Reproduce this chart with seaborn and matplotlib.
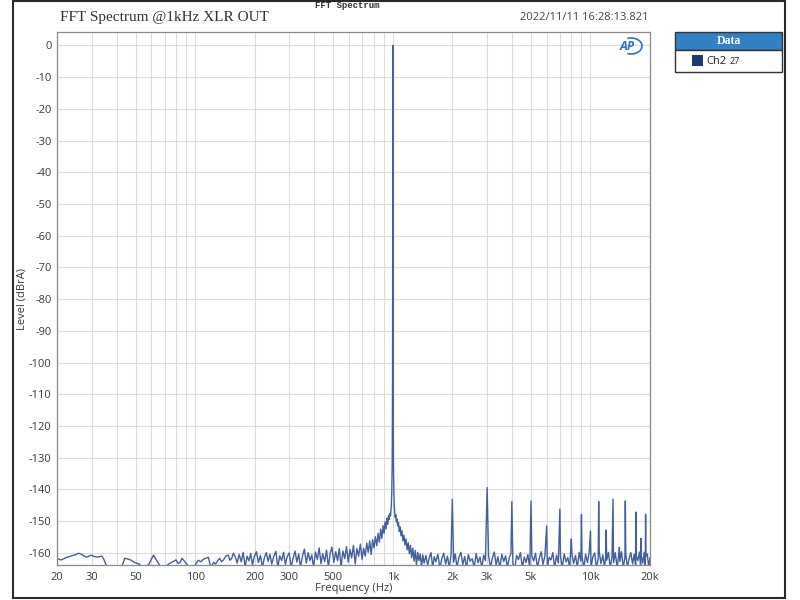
#!/usr/bin/env python
# -*- coding: utf-8 -*-

"""
Plots an FFT spectrum (1 kHz tone, XLR out) in the style of an analyzer report page.
"""
import matplotlib
matplotlib.use("Agg")
import pandas as pd
import matplotlib.pyplot as plt
from matplotlib.patches import Rectangle, Arc
import seaborn as sns

# Data #

# low end, 20 - 156 Hz (slow wiggles)
low_hz = [20, 21, 22.4, 23.7, 25, 25.7, 26.5, 27.3, 28.2, 29,
          29.9, 30.8, 31.8, 32.7, 33.7, 34.5, 35.3, 36.5, 41, 42.5,
          44, 45.7, 47.5, 49.2, 50.5, 52, 53.5, 55, 56.8, 58.4,
          60, 61.5, 63, 64.5, 67, 70, 73.3, 77, 80, 82,
          84, 85.7, 88, 90, 94, 99.6, 103.7, 107, 110, 113,
          116.6, 120, 124, 127, 130, 133, 136, 139, 143, 147,
          150, 153, 156]
low_db = [-161.8, -162.2, -161.4, -160.9, -160.5, -160.1, -160.4, -160.9, -161.3, -161.0,
          -160.7, -161.1, -161.3, -161.2, -161.0, -162.0, -163.5, -165.5, -165.5, -164.5,
          -161.7, -161.9, -162.3, -163.0, -163.2, -163.5, -164.2, -165.0, -164.2, -163.5,
          -162.0, -160.7, -161.8, -162.8, -164.5, -165.0, -163.5, -162.8, -162.2, -163.3,
          -163.0, -161.7, -162.5, -163.3, -164.5, -164.0, -162.3, -162.8, -162.0, -161.7,
          -161.4, -164.6, -163.0, -163.5, -162.4, -161.7, -162.8, -162.2, -161.0, -160.7,
          -162.3, -161.7, -160.1]

# mid band, 160 - 700 Hz
mid_hz = [160, 163, 167, 171, 175, 179, 183, 187, 191, 195,
          199, 204, 209, 214, 219, 224, 229, 234, 239, 244,
          250, 256, 262, 268, 274, 280, 286, 292, 299, 306,
          313, 320, 327, 334, 341, 349, 357, 365, 373, 381,
          389, 397, 406, 415, 424, 433, 442, 452, 462, 472,
          482, 492, 503, 514, 525, 536, 547, 559, 571, 583,
          595, 607, 619, 632, 645, 658, 671, 685, 699]
mid_db = [-161.4, -163.2, -160.5, -162.8, -159.8, -164.5, -161.0, -162.5, -160.2, -163.8,
          -161.2, -159.6, -163.0, -160.8, -164.5, -161.5, -159.9, -162.7, -160.4, -163.5,
          -161.0, -159.5, -164.5, -160.9, -162.4, -159.8, -163.6, -161.2, -160.0, -164.5,
          -161.6, -159.4, -162.9, -160.3, -164.5, -161.0, -158.8, -163.2, -159.9, -162.4,
          -160.6, -164.5, -159.7, -162.1, -158.4, -163.4, -160.2, -162.8, -159.1, -164.5,
          -160.0, -158.2, -163.0, -159.6, -162.4, -158.6, -164.5, -159.4, -161.8, -158.0,
          -162.9, -158.9, -161.6, -157.6, -163.5, -158.6, -161.0, -157.2, -162.0]

# skirt left of the tone
skirt_lo_hz = [712, 725, 738, 751, 764, 777, 790, 803, 816, 829,
               842, 855, 868, 880, 892, 903, 914, 924, 934, 943,
               952, 960, 967, 973, 978, 983, 988, 993, 997]
skirt_lo_db = [-158.6, -161.0, -156.9, -159.8, -156.2, -160.5, -155.8, -158.4, -154.9, -157.7,
               -153.8, -156.6, -152.5, -155.4, -151.4, -153.8, -150.2, -152.4, -149.0, -151.0,
               -148.2, -149.4, -147.5, -148.3, -146.5, -145.0, -140.5, -131.0, -105.0]

# fundamental
tone_hz = [1000]
tone_db = [0.0]

# skirt right of the tone
skirt_hi_hz = [1003, 1007, 1012, 1017, 1022, 1028, 1035, 1042, 1050, 1059,
               1068, 1078, 1089, 1100, 1112, 1125, 1138, 1152, 1166, 1181,
               1196, 1212, 1228, 1245, 1262, 1280, 1298, 1317, 1336, 1356,
               1376, 1397, 1418, 1440]
skirt_hi_db = [-105.0, -131.0, -140.5, -145.5, -147.0, -148.8, -147.9, -150.2, -149.3, -151.5,
               -150.4, -153.2, -151.8, -154.6, -153.0, -156.2, -154.4, -157.5, -155.6, -159.0,
               -156.8, -160.2, -157.6, -161.5, -158.5, -162.6, -159.2, -163.8, -159.8, -162.4,
               -160.3, -164.5, -160.6, -163.2]

# noise floor, 1.47k - 20k
high_hz = [1470, 1500, 1530, 1560, 1590, 1620, 1650, 1690, 1730, 1770,
           1810, 1850, 1890, 1930, 1970, 2030, 2070, 2110, 2160, 2210,
           2260, 2310, 2360, 2410, 2460, 2520, 2580, 2640, 2700, 2760,
           2820, 2880, 2940, 3050, 3120, 3190, 3260, 3330, 3400, 3480,
           3560, 3640, 3720, 3800, 3880, 3960, 4050, 4140, 4230, 4320,
           4420, 4520, 4620, 4720, 4820, 4930, 5050, 5160, 5270, 5390,
           5510, 5630, 5750, 5880, 6050, 6180, 6310, 6450, 6590, 6730,
           6880, 7050, 7200, 7360, 7520, 7680, 7850, 8050, 8220, 8400,
           8580, 8770, 8940, 9060, 9250, 9450, 9650, 9850, 10060, 10280,
           10500, 10720, 10940, 11070, 11300, 11540, 11780, 11940, 12080, 12330,
           12590, 12850, 13080, 13350, 13630, 13900, 14080, 14350, 14650, 14940,
           15080, 15380, 15690, 16000, 16320, 16640, 16960, 17060, 17380, 17700,
           17940, 18060, 18380, 18700, 18940, 19060, 19380, 19700, 20000]
high_db = [-160.8, -163.9, -161.5, -159.9, -164.6, -161.2, -162.8, -160.4, -164.8, -161.7,
           -160.1, -163.5, -161.0, -164.7, -160.6, -162.9, -160.3, -164.6, -161.4, -159.8,
           -163.7, -161.1, -164.8, -160.5, -162.6, -161.8, -164.6, -160.2, -163.1, -161.3,
           -164.7, -160.7, -162.4, -160.9, -164.6, -161.6, -159.7, -163.8, -161.2, -164.8,
           -160.4, -162.7, -160.9, -164.6, -161.5, -160.2, -163.4, -164.7, -160.8, -162.1,
           -159.9, -164.6, -161.3, -163.0, -160.5, -164.8, -161.0, -162.5, -160.1, -164.7,
           -161.6, -159.6, -163.6, -160.9, -164.6, -161.4, -162.2, -159.9, -164.8, -160.7,
           -163.2, -161.0, -164.6, -160.3, -162.8, -161.5, -164.7, -160.2, -163.3, -160.8,
           -164.6, -159.8, -162.6, -161.1, -164.8, -160.4, -163.0, -159.7, -164.6, -161.2,
           -160.0, -164.7, -161.8, -159.6, -163.4, -160.6, -164.6, -160.9, -162.3, -159.8,
           -164.8, -161.0, -163.1, -159.9, -164.6, -160.5, -162.7, -159.6, -164.7, -161.3,
           -160.2, -164.6, -161.7, -159.9, -163.5, -160.4, -164.8, -161.0, -162.4, -159.7,
           -164.6, -160.8, -163.2, -159.8, -164.7, -161.1, -160.3, -164.6, -161.5]

# harmonics
harm_hz = [2000, 3000, 4000, 5000, 6000, 7000, 8000, 9000, 10000,
           11000, 12000, 13000, 14000, 15000, 17000, 18000, 19000]
harm_db = [-143.1, -139.4, -143.8, -143.6, -151.5, -146.2, -155.6, -147.9, -153.1,
           -143.8, -152.8, -143.1, -158.2, -143.6, -147.1, -155.4, -147.8]

x_major = [20, 30, 50, 100, 200, 300, 500, 1000, 2000, 3000, 5000, 10000, 20000]
x_labels = ["20", "30", "50", "100", "200", "300", "500", "1k", "2k", "3k", "5k", "10k", "20k"]
x_minor = [40, 60, 70, 80, 90, 400, 600, 700, 800, 900,
           4000, 6000, 7000, 8000, 9000]
y_ticks = list(range(0, -161, -10))

LINE_COLOR = "#42609e"
GRID_COLOR = "#dcdcdc"
TEXT_COLOR = "#3a3a3a"
W, H = 800.0, 600.0


def build_frame():
    parts = [(low_hz, low_db), (mid_hz, mid_db), (skirt_lo_hz, skirt_lo_db),
             (tone_hz, tone_db), (skirt_hi_hz, skirt_hi_db),
             (high_hz, high_db), (harm_hz, harm_db)]
    frames = [pd.DataFrame({"freq": f, "level": l}) for f, l in parts]
    df = pd.concat(frames, ignore_index=True).sort_values("freq")
    return df.reset_index(drop=True)


def fx(px):
    return px / W


def fy(py):
    return 1.0 - py / H


def plot_spectrum(out_name="out.png"):
    df = build_frame()

    sns.set_theme(style="whitegrid")
    plt.rcParams['font.family'] = ['Open Sans', 'DejaVu Sans']

    fig = plt.figure(figsize=(8, 6), dpi=100)
    fig.patch.set_facecolor("white")
    ax = fig.add_axes([fx(57), fy(565), fx(650) - fx(57), fy(32) - fy(565)])

    sns.lineplot(data=df, x="freq", y="level", ax=ax, estimator=None, sort=False,
                 color=LINE_COLOR, linewidth=1.0)

    ax.set_xscale("log")
    ax.set_xlim(20, 20000)
    ax.set_ylim(-163.8, 4.2)

    ax.set_xticks(x_major)
    ax.set_xticklabels(x_labels)
    ax.set_xticks(x_minor, minor=True)
    ax.set_xticklabels([], minor=True)
    ax.set_yticks(y_ticks)
    ax.set_yticklabels([str(v) for v in y_ticks])

    ax.grid(which="both", axis="x", color=GRID_COLOR, linewidth=0.8)
    ax.grid(which="major", axis="y", color=GRID_COLOR, linewidth=0.8)
    ax.tick_params(which="both", length=0, labelsize=8, colors=TEXT_COLOR)
    ax.tick_params(axis="x", pad=5)
    ax.tick_params(axis="y", pad=4)
    for sp in ax.spines.values():
        sp.set_color("#8a8a8a")
        sp.set_linewidth(0.9)

    ax.set_xlabel("Frequency (Hz)", fontsize=8, color=TEXT_COLOR, labelpad=0)
    ax.set_ylabel("Level (dBrA)", fontsize=8, color=TEXT_COLOR)
    # the label hangs left of this x, so its centre ends up near x = 22 px
    ax.yaxis.set_label_coords((28 - 57) / (650 - 57), 0.5)

    # header texts
    fig.text(fx(60), fy(18), "FFT Spectrum @1kHz XLR OUT", fontsize=11,
             family="Liberation Serif", color="#333333", va="center", ha="left")
    fig.text(fx(347), fy(5), "FFT Spectrum", fontsize=6.5, family="Liberation Mono",
             weight="bold", color="#333333", va="center", ha="center")
    fig.text(fx(648), fy(18), "2022/11/11 16:28:13.821", fontsize=8,
             color="#444444", va="center", ha="right")

    # AP logo
    fig.text(fx(627), fy(46), "AP", fontsize=9, style="italic", weight="bold",
             color="#2c74c2", va="center", ha="center")
    fig.patches.append(Arc((fx(631), fy(46)), fx(22), 16 / H, theta1=-110, theta2=110,
                           transform=fig.transFigure, color="#2c74c2", linewidth=1.2))

    # legend panel
    fig.patches.append(Rectangle((fx(675), fy(50)), fx(107), 18 / H, transform=fig.transFigure,
                                 facecolor="#3181c4", edgecolor="#333333", linewidth=1.0))
    fig.patches.append(Rectangle((fx(675), fy(72)), fx(107), 22 / H, transform=fig.transFigure,
                                 facecolor="white", edgecolor="#333333", linewidth=1.0))
    fig.text(fx(728.5), fy(41), "Data", fontsize=8.5, family="Liberation Serif",
             weight="bold", color="white", va="center", ha="center")
    fig.patches.append(Rectangle((fx(692), fy(66)), fx(11), 11 / H, transform=fig.transFigure,
                                 facecolor="#1c3876", edgecolor="none"))
    fig.text(fx(706), fy(61), "Ch2", fontsize=8, color="#222222", va="center", ha="left")
    fig.text(fx(730), fy(62), "27", fontsize=6.5, color="#222222", va="center", ha="left")

    # page frame
    fig.patches.append(Rectangle((fx(13), fy(598)), fx(785) - fx(13), fy(1) - fy(598),
                                 transform=fig.transFigure, facecolor="none",
                                 edgecolor="#2a2a2a", linewidth=1.5))

    fig.savefig(out_name, dpi=100)
    print("Wrote file: {}".format(out_name))


if __name__ == '__main__':
    plot_spectrum()
